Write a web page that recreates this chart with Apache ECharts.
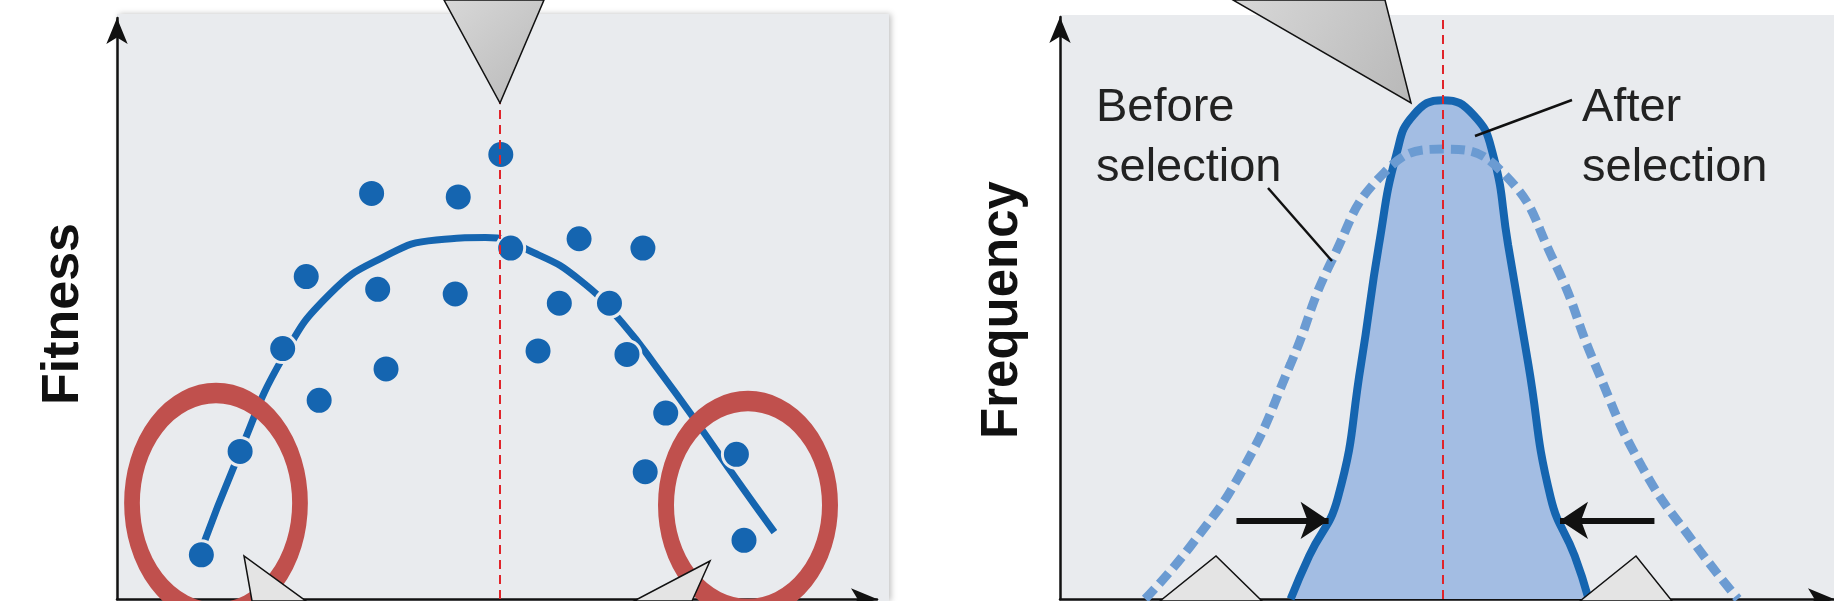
<!DOCTYPE html>
<html><head><meta charset="utf-8">
<script src="https://cdn.jsdelivr.net/npm/echarts@6/dist/echarts.min.js"></script>
<style>html,body{margin:0;padding:0;background:#fff}#c{width:1834px;height:601px}</style>
</head><body><div id="c"></div>
<script>
// Left panel: fitness data points [trait, fitness]
const fitnessPoints = [[50.5,76.5],[33.5,69.8],[44.9,69.2],[51.8,60.4],[60.8,62.0],[69.2,60.4],[24.9,55.5],[34.3,53.3],[44.5,52.5],[58.2,50.9],[64.8,50.9],[21.8,43.1],[55.4,42.7],[67.1,42.1],[35.4,39.6],[26.6,34.2],[72.2,32.0],[16.2,25.4],[81.5,24.9],[69.5,21.9],[11.1,7.6],[82.5,10.1]];
const fitnessCurve = [[10.5,6.4],[16.2,25.4],[21.8,41.5],[28.0,52.5],[35.0,58.8],[42.0,61.8],[48.5,62.2],[55.0,59.5],[61.0,54.8],[66.5,47.5],[71.5,39.0],[76.5,30.0],[81.5,20.6],[86.5,11.5]];
// Right panel: frequency distributions
const beforeCurve = [[11.0,0],[17.1,9.5],[23.8,22.7],[29.8,40.4],[35.1,58.1],[42.0,73.4],[49.5,77.3],[57.1,73.4],[63.8,58.1],[69.1,40.4],[75.2,22.7],[82.0,9.5],[87.6,0]];
const afterCurve = [[29.8,0],[32.2,7.4],[35.9,17.4],[38.9,40.4],[41.2,60.8],[43.5,76.6],[45.7,83.2],[49.5,85.7],[53.4,83.2],[55.9,76.6],[57.9,60.8],[60.5,40.4],[63.4,17.4],[66.5,7.4],[68.3,0]];
const optimumLeft = 50.4, optimumRight = 49.5;
const yTitles = ['Fitness','Frequency'];

const chart = echarts.init(document.getElementById('c'));
const axisBase = (gi) => ({
  gridIndex: gi, min: 0, max: 100, type: 'value',
  axisLine: {show: true, lineStyle: {color: '#111', width: 2.5}, symbol: ['none','arrow'], symbolSize: [16, 26]},
  axisTick: {show: false}, axisLabel: {show: false}, splitLine: {show: false}
});
const blue = '#1565b0';
const tri = (pts, fill) => ({type: 'polygon', z: 100, shape: {points: pts}, style: {fill: fill, stroke: '#111', lineWidth: 1.5}});
const ell = (cx, cy, rx, ry) => ({type: 'circle', z: 60, shape: {cx: 0, cy: 0, r: 1}, x: cx, y: cy, scaleX: rx, scaleY: ry, style: {fill: 'none', stroke: '#c0504d', lineWidth: 18, strokeNoScale: true}});
const gray = {type: 'linear', x: 0, y: 0, x2: 1, y2: 1, colorStops: [{offset: 0, color: '#d8d8d8'}, {offset: 1, color: '#b8b8b8'}]};
chart.setOption({
  animation: false,
  grid: [
    {left: 117, width: 760, top: 18, height: 581},
    {left: 1060, width: 774, top: 17, height: 582}
  ],
  xAxis: [axisBase(0), axisBase(1)],
  yAxis: [axisBase(0), axisBase(1)],
  graphic: [
    {type: 'rect', z: -10, shape: {x: 117, y: 14, width: 772, height: 587}, style: {fill: '#e9ebee', shadowBlur: 6, shadowColor: 'rgba(0,0,0,0.25)', shadowOffsetX: 2}},
    {type: 'rect', z: -10, shape: {x: 1060, y: 15, width: 780, height: 586}, style: {fill: '#e9ebee'}},
    {type: 'text', z: 50, x: 64, y: 314, rotation: Math.PI/2, style: {text: yTitles[0], font: 'bold 52px "Liberation Sans"', fill: '#111', align: 'center', verticalAlign: 'middle'}},
    {type: 'text', z: 50, x: 1003, y: 310, rotation: Math.PI/2, style: {text: yTitles[1], font: 'bold 51px "Liberation Sans"', fill: '#111', align: 'center', verticalAlign: 'middle'}},
    ell(216, 503, 84, 110), ell(748, 505, 82, 104),
    tri([[444,0],[544,0],[500,103]], gray),
    tri([[1233,0],[1385,0],[1411,103]], gray),
    tri([[252,601],[244,556],[306,601]], '#e4e4e4'),
    tri([[634,601],[710,561],[692,601]], '#e4e4e4'),
    tri([[1160,601],[1216,556],[1262,601]], '#e4e4e4'),
    tri([[1580,601],[1636,556],[1672,601]], '#e4e4e4'),
    {type: 'text', z: 50, x: 1096, y: 78, style: {text: 'Before\nselection', font: '47px "Liberation Sans Narrow", "Liberation Sans"', lineHeight: 60, fill: '#222'}},
    {type: 'text', z: 50, x: 1582, y: 78, style: {text: 'After\nselection', font: '47px "Liberation Sans Narrow", "Liberation Sans"', lineHeight: 60, fill: '#222'}},
    {type: 'line', z: 50, shape: {x1: 1268, y1: 188, x2: 1332, y2: 261}, style: {stroke: '#111', lineWidth: 2.5}},
    {type: 'line', z: 50, shape: {x1: 1572, y1: 100, x2: 1475, y2: 136}, style: {stroke: '#111', lineWidth: 2.5}}
  ],
  series: [
    {type: 'line', xAxisIndex: 0, yAxisIndex: 0, data: fitnessCurve, smooth: true, symbol: 'none', lineStyle: {color: blue, width: 7}, z: 3,
     markLine: {silent: true, symbol: 'none', label: {show: false}, lineStyle: {color: '#e0242a', type: [9, 6], width: 2}, data: [[{coord: [optimumLeft, 0]}, {coord: [optimumLeft, 85.4]}]]}},
    {type: 'scatter', xAxisIndex: 0, yAxisIndex: 0, data: fitnessPoints, symbolSize: 28, itemStyle: {color: blue, borderColor: '#e9ebee', borderWidth: 3, opacity: 1}, z: 4},
    {type: 'line', xAxisIndex: 1, yAxisIndex: 1, data: afterCurve, smooth: 0.5, symbol: 'none', lineStyle: {color: blue, width: 8}, areaStyle: {color: '#a3bde3', opacity: 1}, z: 2,
     markLine: {silent: true, symbol: 'none', label: {show: false}, lineStyle: {color: '#e0242a', type: [9, 6], width: 2}, data: [[{coord: [optimumRight, 0]}, {coord: [optimumRight, 100]}]]}},
    {type: 'line', xAxisIndex: 1, yAxisIndex: 1, data: beforeCurve, smooth: 0.5, symbol: 'none', lineStyle: {color: '#6b9bd2', width: 9, type: [14, 7]}, z: 3},
    {type: 'lines', coordinateSystem: 'cartesian2d', xAxisIndex: 1, yAxisIndex: 1, z: 5, symbol: ['none','arrow'], symbolSize: 28,
     lineStyle: {color: '#111', width: 6, opacity: 1},
     data: [{coords: [[22.8, 13.5], [34.7, 13.5]]}, {coords: [[76.8, 13.5], [64.6, 13.5]]}]}
  ]
});
</script></body></html>
